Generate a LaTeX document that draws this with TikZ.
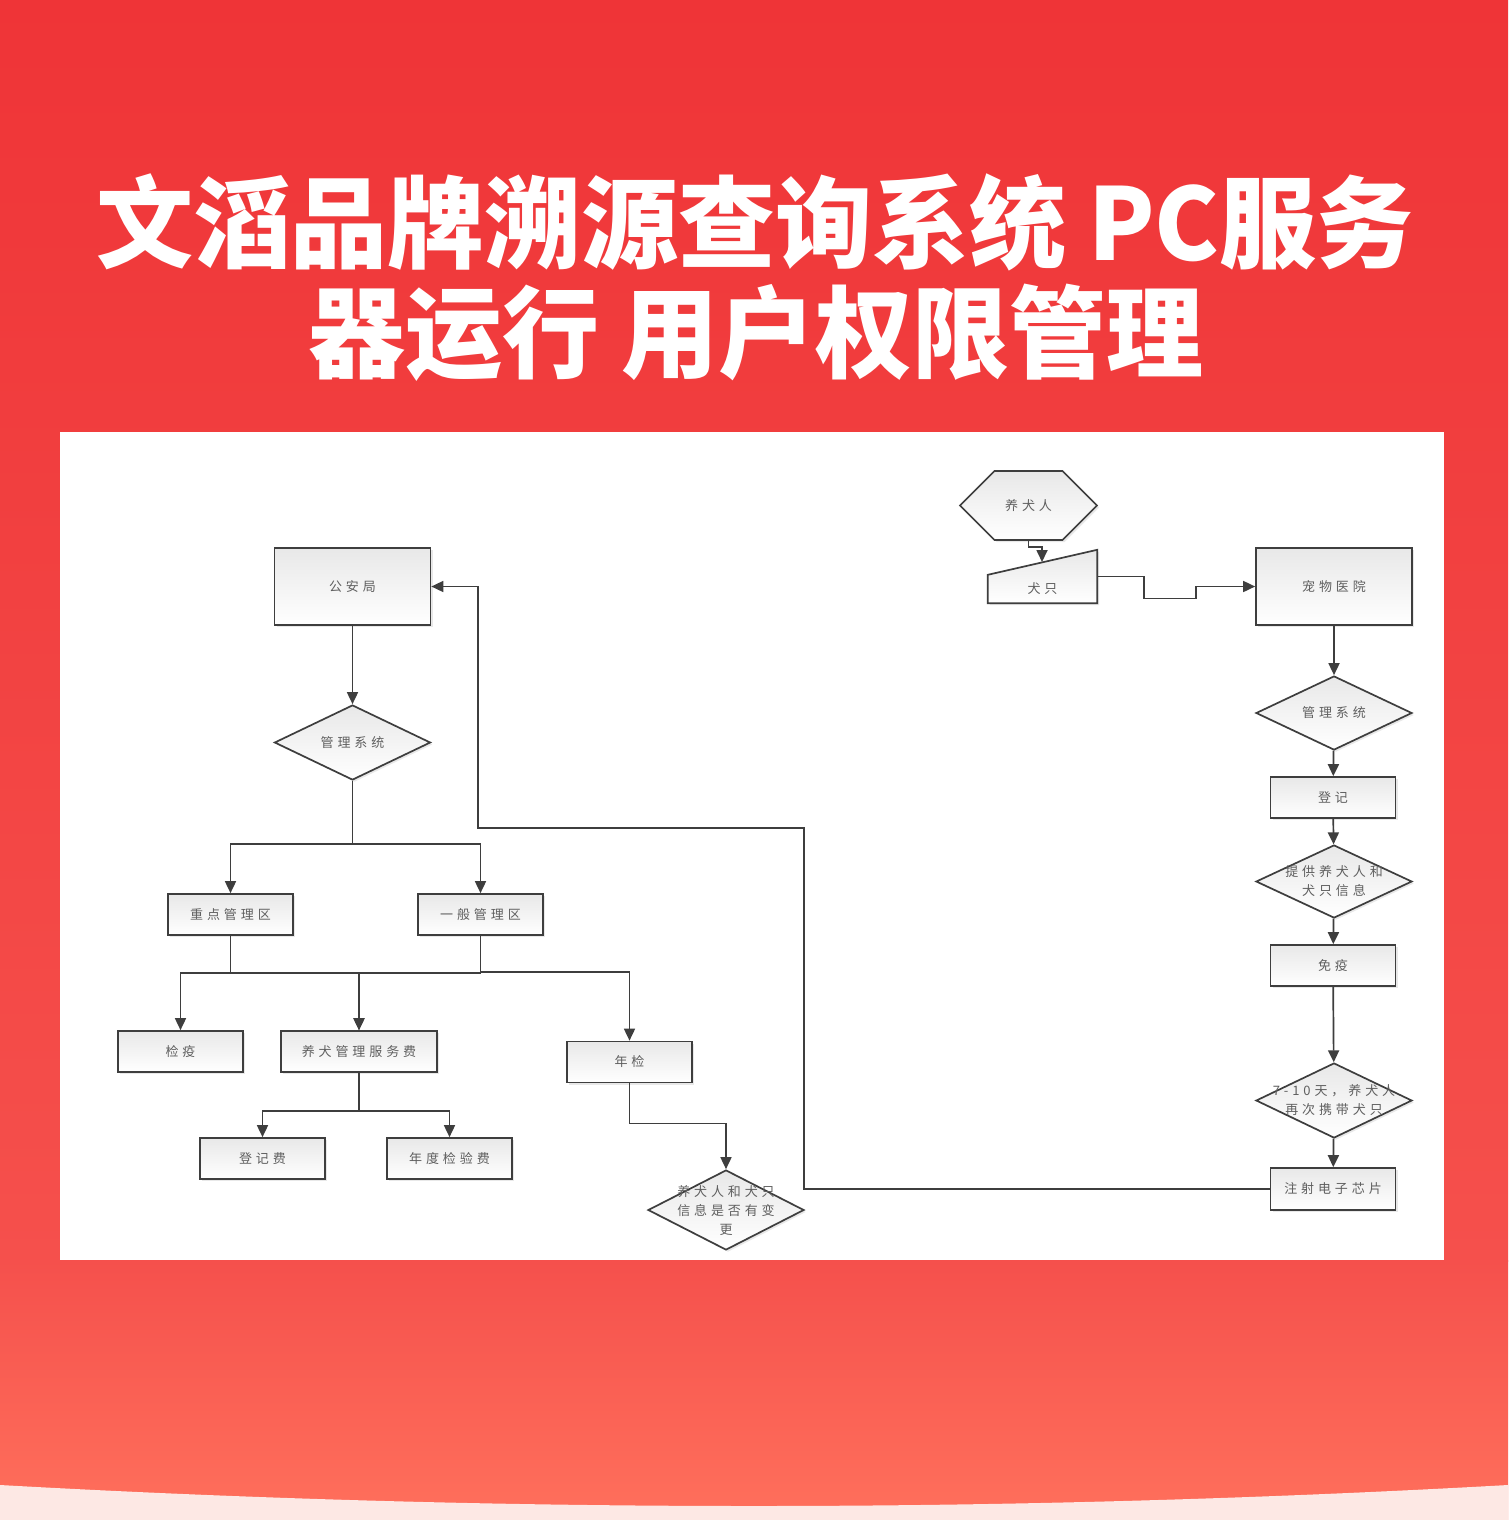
\documentclass[tikz,border=0pt]{standalone}
\usepackage{fontspec}
\setmainfont{Noto Sans CJK SC}
\newfontfamily\titlefont{Noto Sans CJK SC}[FakeStretch=0.97]
\newfontfamily\boxfont{Noto Sans CJK SC}[LetterSpace=30]
\usetikzlibrary{shapes.geometric,shapes.symbols,arrows.meta,shadows}
\definecolor{bgtop}{RGB}{239,52,55}
\definecolor{bgmid}{RGB}{245,80,76}
\definecolor{bgbot}{RGB}{255,112,92}
\definecolor{bgpale}{RGB}{253,232,228}
\definecolor{lnc}{RGB}{62,62,62}
\definecolor{txc}{RGB}{95,95,95}
\tikzset{
  ttl/.style={font=\titlefont\bfseries\fontsize{100}{100}\selectfont, text=white, inner sep=0pt},
  gtxt/.style={font=\boxfont\fontsize{13}{19}\selectfont, text=txc, align=center},
  shp/.style={draw=lnc, line width=1.7pt, top color=black!9, bottom color=white,
    drop shadow={opacity=.18, shadow xshift=2pt, shadow yshift=-2pt}},
  box/.style={shp, rectangle, inner sep=0pt, gtxt, minimum width=125pt, minimum height=41pt},
  bigbox/.style={box, minimum width=156pt, minimum height=77pt},
  dia/.style={shp, diamond, inner sep=0pt, minimum width=156pt, minimum height=75pt},
  hexa/.style={shp, signal, signal to=west and east, signal pointer angle=90,
    inner sep=0pt, gtxt, minimum width=137pt, minimum height=69pt},
  ln/.style={draw=lnc, line width=1.7pt},
  arr/.style={ln, -{Triangle[length=12pt,width=11pt]}}
}
\begin{document}
\begin{tikzpicture}[x=1pt,y=-1pt]
\useasboundingbox (0,0) rectangle (1508,1520);
\shade[top color=bgtop, bottom color=bgmid] (0,0) rectangle (1508,1261);
\shade[top color=bgmid, bottom color=bgbot] (0,1260) rectangle (1508,1520);
\fill[bgpale] (0,1485) .. controls (500,1513) and (1008,1513) .. (1508,1485) -- (1508,1520) -- (0,1520) -- cycle;
\fill[white] (60,432) rectangle (1444,1260);

\node[ttl] (t0) at (755,222) {文滔品牌溯源查询系统 PC服务};
\node[ttl] (t1) at (756,333) {器运行 用户权限管理};

\node[bigbox] (l0) at (352.5,586.5) {公安局};
\node[dia, label={[gtxt]center:管理系统}] (l1) at (352.5,742.5) {};
\node[box] (l2) at (230.5,914.5) {重点管理区};
\node[box] (l3) at (480.5,914.5) {一般管理区};
\node[box] (l4) at (180.5,1051.5) {检疫};
\node[box, minimum width=156pt] (l5) at (359,1051.5) {养犬管理服务费};
\node[box] (l6) at (629.5,1062) {年检};
\node[box] (l7) at (262.5,1158.5) {登记费};
\node[box] (l8) at (449.5,1158.5) {年度检验费};
\node[dia, minimum height=80pt, label={[gtxt]center:{养犬人和犬只\\信息是否有变\\更}}] (l9) at (726,1210) {};

\node[hexa] (r0) at (1028.5,505.5) {养犬人};
\node[inner sep=0pt, minimum width=109pt, minimum height=53pt] (r1) at (1042.5,576.5) {};
\draw[shp] (r1.south west) -- (r1.south east) -- (r1.north east) -- ([yshift=-25pt]r1.north west) -- cycle;
\node[gtxt] (r1t) at ([yshift=-12pt]r1.center) {犬只};
\coordinate (r1top) at (1042,562);
\node[bigbox] (r2) at (1334,586.5) {宠物医院};
\node[dia, minimum height=74pt, label={[gtxt]center:管理系统}] (r3) at (1334,713) {};
\node[box] (r4) at (1333,797.5) {登记};
\node[dia, minimum height=73pt, label={[gtxt]center:{提供养犬人和\\犬只信息}}] (r5) at (1334,881.5) {};
\node[box] (r6) at (1333,965.5) {免疫};
\node[dia, label={[gtxt]center:{7-10天，养犬人\\再次携带犬只}}] (r7) at (1334,1100.5) {};
\node[box, minimum height=42pt] (r8) at (1333,1189) {注射电子芯片};

\draw[arr] (l0) -- (l1);
\draw[arr] (l1.south) -- ++(0,63) -| (l2.north);
\draw[arr] (l1.south) -- ++(0,63) -| (l3.north);
\draw[arr] (l2.south) -- ++(0,37) -| (l4.north);
\draw[arr] (l2.south) -- ++(0,37) -| (l5.north);
\draw[arr] (l3.south) -- ++(0,37) -| (l5.north);
\draw[arr] (l3.south) -- ++(0,36) -| (l6.north);
\draw[arr] (l5.south) -- ++(0,38) -| (l7.north);
\draw[arr] (l5.south) -- ++(0,38) -| (l8.north);
\draw[arr] (l6.south) -- ++(0,40) -| (l9.north);

\draw[arr] (r0.south) -- ++(0,6) -| (r1top);
\draw[arr] (r1.east) -- ++(47,0) -- ++(0,22) -- ++(52,0) |- (r2.west);
\draw[arr] (r2) -- (r3);
\draw[arr] (r3) -- (r4);
\draw[arr] (r4) -- (r5);
\draw[arr] (r5) -- (r6);
\draw[arr] (r6) -- (r7);
\draw[arr] (r7) -- (r8);
\draw[arr] (r8.west) -| (804,828) -| (478,586.5) -- (l0.east);
\end{tikzpicture}
\end{document}
